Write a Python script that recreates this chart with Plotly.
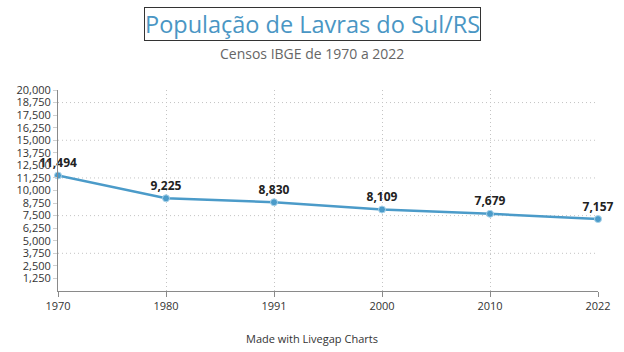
import plotly.graph_objects as go

years = ["1970", "1980", "1991", "2000", "2010", "2022"]
population = [11494, 9225, 8830, 8109, 7679, 7157]
y_tick_values = [1250, 2500, 3750, 5000, 6250, 7500, 8750, 10000, 11250, 12500,
                 13750, 15000, 16250, 17500, 18750, 20000]
grid_values = [3750, 7500, 11250, 15000, 18750]

title_text = "População de Lavras do Sul/RS"
subtitle_text = "Censos IBGE de 1970 a 2022"
footer_text = "Made with Livegap Charts"

line_color = "#4b9bc9"
grid_color = "#c4c4c4"

M_L, M_R, M_T, M_B = 58, 26, 90, 61

fig = go.Figure()
fig.add_trace(go.Scatter(
    x=years, y=population,
    mode="lines+markers+text",
    line=dict(color=line_color, width=2.5),
    marker=dict(color=line_color, size=7, line=dict(color="#a9d3ea", width=1)),
    text=[f"{v:,}" for v in population],
    textposition="top center",
    textfont=dict(family="Open Sans", size=12, color="#222222", weight="bold"),
    cliponaxis=False,
    showlegend=False,
))

fig.update_layout(
    width=624, height=352,
    margin=dict(l=M_L, r=M_R, t=M_T, b=M_B),
    paper_bgcolor="white", plot_bgcolor="white",
    font=dict(family="Open Sans", size=11, color="#333333"),
    xaxis=dict(
        type="category", range=[0, 5],
        showline=True, linecolor="#8a8a8a", linewidth=1,
        ticks="outside", ticklen=5, tickcolor="#8a8a8a",
        showgrid=True, gridcolor=grid_color, griddash="1px,3px", gridwidth=1,
        tickfont=dict(size=11, color="#333333"),
        zeroline=False,
    ),
    yaxis=dict(
        range=[0, 20000],
        tickmode="array", tickvals=y_tick_values, tickformat=",d",
        showline=True, linecolor="#8a8a8a", linewidth=1,
        ticks="outside", ticklen=4, tickcolor="#d0d0d0",
        showgrid=False, zeroline=False,
        tickfont=dict(size=11, color="#333333"),
    ),
)

# dotted horizontal gridlines at every third tick
for gv in grid_values:
    fig.add_shape(type="line", xref="paper", x0=0, x1=1, yref="y", y0=gv, y1=gv,
                  line=dict(color=grid_color, width=1, dash="1px,3px"), layer="below")

plot_h = 352 - M_T - M_B
plot_w = 624 - M_L - M_R


def py(pix):
    return (352 - M_B - pix) / plot_h


cx = (312 - M_L) / plot_w

fig.update_layout(annotations=[
    dict(text=title_text, x=cx, y=py(24), xref="paper", yref="paper",
         showarrow=False, font=dict(family="Open Sans", size=23.5, color="#4a96c4"),
         bordercolor="#333333", borderwidth=1, borderpad=0,
         xanchor="center", yanchor="middle"),
    dict(text=subtitle_text, x=cx, y=py(53), xref="paper", yref="paper",
         showarrow=False, font=dict(family="Open Sans", size=14, color="#666666"),
         xanchor="center", yanchor="middle"),
    dict(text=footer_text, x=cx, y=py(338), xref="paper", yref="paper",
         showarrow=False, font=dict(family="Open Sans", size=11, color="#333333"),
         xanchor="center", yanchor="middle"),
])

fig.write_html("out.html")
